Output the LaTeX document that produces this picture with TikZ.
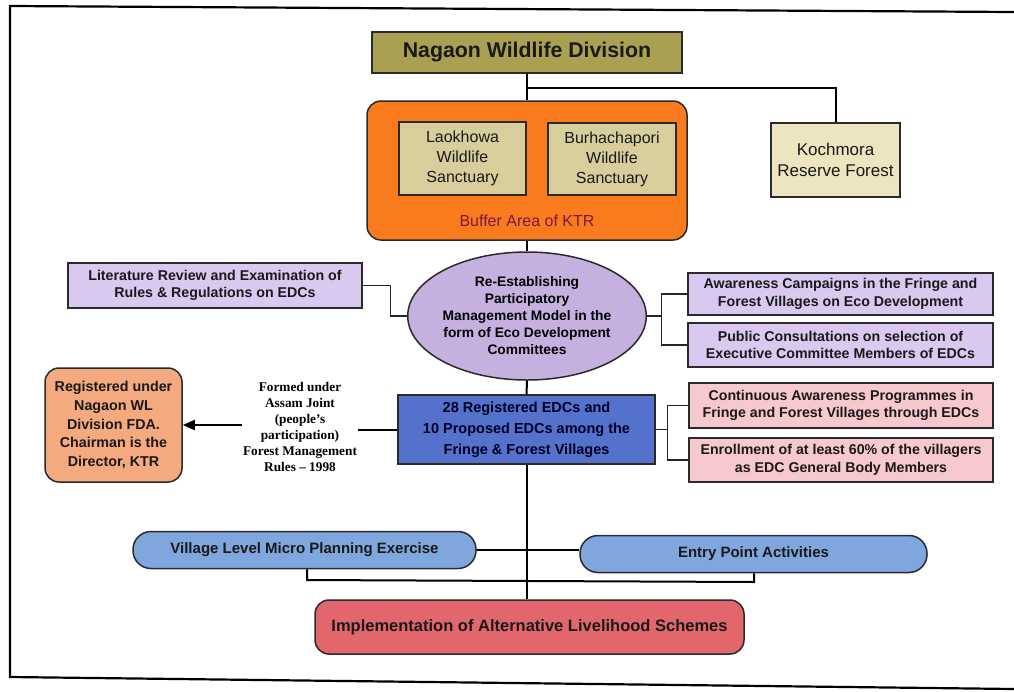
\documentclass[tikz,border=0pt]{standalone}
\usepackage{fontspec}
\setmainfont{Liberation Sans}
\newfontfamily\timesfont{Liberation Serif}
\usetikzlibrary{shapes.geometric,arrows.meta}
\definecolor{olivec}{HTML}{A9A052}
\definecolor{orangec}{HTML}{FA7A1E}
\definecolor{khakic}{HTML}{D8CE9C}
\definecolor{kochc}{HTML}{ECE5BF}
\definecolor{lavell}{HTML}{C6B0E0}
\definecolor{lavbox}{HTML}{D9C9F0}
\definecolor{bluec}{HTML}{5472CC}
\definecolor{pinkc}{HTML}{F7C9CE}
\definecolor{salmc}{HTML}{F4A97F}
\definecolor{pillc}{HTML}{7FA7DD}
\definecolor{impc}{HTML}{E2676C}
\definecolor{buftext}{HTML}{7A1942}
\definecolor{edge}{HTML}{2A2A2A}
\begin{document}
\begin{tikzpicture}[x=1pt,y=-1pt,
  box/.style={draw=edge,line width=1.5pt,inner sep=0pt,align=center,text=black!90},
  bsmall/.style={font=\bfseries\fontsize{14.2}{17.5}\selectfont},
  regular/.style={font=\fontsize{16}{20}\selectfont},
  conn/.style={line width=2pt,draw=black},
  thinconn/.style={line width=1.3pt,draw=black!85}]
\useasboundingbox (0,0) rectangle (1014,691);
% frame
\draw[line width=2.2pt] (1014,12) -- (10,6) -- (10,677) -- (1014,689);

% top
\node[box,fill=olivec,minimum width=310pt,minimum height=41pt,
  font=\bfseries\fontsize{21.3}{24}\selectfont] (nag) at (527,52.5) {Nagaon Wildlife Division};
\node[box,fill=orangec,rounded corners=14pt,minimum width=320pt,minimum height=139pt] (buf) at (527,170.5) {};
\node[box,fill=khakic,minimum width=127pt,minimum height=73pt,regular] (lao) at (462.5,158.5) {Laokhowa\\Wildlife\\Sanctuary};
\node[box,fill=khakic,minimum width=128pt,minimum height=72pt,regular] (bur) at (612,159) {Burhachapori\\Wildlife\\Sanctuary};
\node[text=buftext,font=\fontsize{16}{19}\selectfont] (buflbl) at (527,221) {Buffer Area of KTR};
\node[box,fill=kochc,minimum width=129pt,minimum height=74pt,font=\fontsize{17}{21}\selectfont] (koch) at (835.5,160) {Kochmora\\Reserve Forest};
\coordinate (jk) at (527,88);
\draw[conn] (nag.south) -- (buf.north);
\draw[conn] (jk) -| (koch.north);

% ellipse row
\node[ellipse,draw=edge,line width=1.5pt,fill=lavell,minimum width=214pt,minimum height=128pt,inner sep=0pt,align=center,
  font=\bfseries\fontsize{13.8}{17}\selectfont] (ell) at (527,316) {Re-Establishing\\Participatory\\Management Model in the\\form of Eco Development\\Committees};
\node[box,fill=lavbox,minimum width=294pt,minimum height=45pt,bsmall] (lit) at (215,285.5) {Literature Review and Examination of\\Rules \& Regulations on EDCs};
\node[box,fill=lavbox,minimum width=305pt,minimum height=42pt,bsmall] (aw) at (840.5,294) {Awareness Campaigns in the Fringe and\\Forest Villages on Eco Development};
\node[box,fill=lavbox,minimum width=305pt,minimum height=44pt,bsmall] (pub) at (840.5,345) {Public Consultations on selection of\\Executive Committee Members of EDCs};
\draw[conn] (buf.south) -- (ell.north);
\draw[thinconn] (lit.east) -- ++(28,0) |- (ell.west);
\coordinate (rj) at (662,316);
\draw[thinconn] (ell.east) -- (rj);
\draw[thinconn] (aw.west) -- ++(-26,0) |- (pub.west);

% blue row
\node[box,fill=bluec,minimum width=257pt,minimum height=69pt,text=black!85!blue,
  font=\bfseries\fontsize{14.5}{21}\selectfont] (blue) at (526.5,429.5) {28 Registered EDCs and\\10 Proposed EDCs among the\\Fringe \& Forest Villages};
\node[box,fill=pinkc,minimum width=304pt,minimum height=45pt,bsmall] (cont) at (841,405.5) {Continuous Awareness Programmes in\\Fringe and Forest Villages through EDCs};
\node[box,fill=pinkc,minimum width=304pt,minimum height=44pt,bsmall] (enr) at (841,460) {Enrollment of at least 60\% of the villagers\\as EDC General Body Members};
\node[box,fill=salmc,rounded corners=14pt,minimum width=137pt,minimum height=114pt,
  font=\bfseries\fontsize{14.3}{18.7}\selectfont] (reg) at (113.5,425) {Registered under\\Nagaon WL\\Division FDA.\\Chairman is the\\Director, KTR};
\node[align=center,inner sep=1pt,font=\timesfont\bfseries\fontsize{13.3}{16}\selectfont] (formed) at (300,427) {Formed under\\Assam Joint\\(people’s\\participation)\\Forest Management\\Rules – 1998};
\draw[conn] (ell.south) -- (blue.north);
\coordinate (bj) at (668,429.5);
\draw[thinconn] (blue.east) -- (bj);
\draw[thinconn] (cont.west) -- ++(-21,0) |- (enr.west);
\draw[conn] (blue.west) -- (formed.east |- blue.west);
\draw[conn,-{Triangle[length=12pt,width=10pt]}] (formed.west |- reg.east) -- (reg.east);

% bottom
\node[box,fill=pillc,rounded corners=18pt,minimum width=343pt,minimum height=37pt,
  font=\bfseries\fontsize{15}{18}\selectfont] (vil) at (304.5,550) {Village Level Micro Planning Exercise};
\node[box,fill=pillc,rounded corners=18pt,minimum width=347pt,minimum height=37pt,
  font=\bfseries\fontsize{15}{18}\selectfont] (ent) at (753.5,554) {Entry Point Activities};
\node[box,fill=impc,rounded corners=14pt,minimum width=429pt,minimum height=54pt,
  font=\bfseries\fontsize{16.5}{20}\selectfont] (imp) at (529.5,627) {Implementation of Alternative Livelihood Schemes};
\coordinate (bl) at (307,580);
\coordinate (br) at (754,582);
\draw[conn] (blue.south) -- (blue.south |- imp.north);
\draw[conn] (vil.east) -- (vil.east -| ent.west);
\draw[conn] (bl |- vil.south) -- (bl) -- (br) -- (br |- ent.south);
\end{tikzpicture}
\end{document}
